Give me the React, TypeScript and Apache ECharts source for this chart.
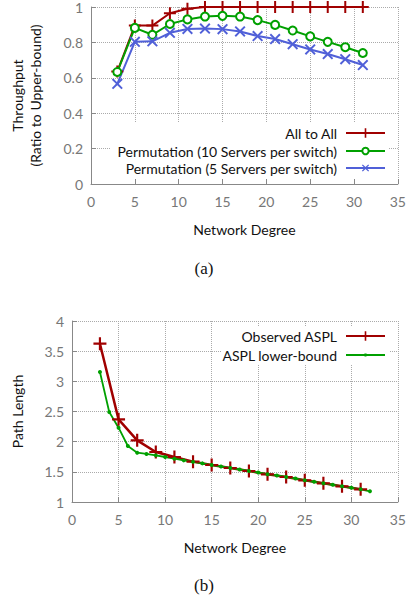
import React, { useEffect, useRef } from "react";
import * as echarts from "echarts";

const degrees = [3, 5, 7, 9, 11, 13, 15, 17, 19, 21, 23, 25, 27, 29, 31];
const allToAll = [0.635, 0.895, 0.895, 0.965, 0.99, 1, 1, 1, 1, 1, 1, 1, 1, 1, 1];
const perm10 = [0.633, 0.882, 0.843, 0.904, 0.93, 0.946, 0.95, 0.946, 0.926, 0.899, 0.867, 0.834, 0.803, 0.773, 0.74];
const perm5 = [0.566, 0.803, 0.806, 0.854, 0.876, 0.878, 0.875, 0.862, 0.836, 0.819, 0.79, 0.76, 0.734, 0.705, 0.672];

const observedAspl = [3.624, 2.37, 2.022, 1.829, 1.746, 1.669, 1.613, 1.564, 1.514, 1.459, 1.414, 1.359, 1.309, 1.26, 1.21];
const lbDegrees = [3, 4, 5, 6, 7, 8, 9, 10, 11, 12, 13, 14, 15, 16, 17, 18, 19, 20, 21, 22, 23, 24, 25, 26, 27, 28, 29, 30, 31, 32];
const lowerBound = [3.155, 2.492, 2.232, 1.928, 1.818, 1.796, 1.773, 1.746, 1.718, 1.69, 1.665, 1.64, 1.613, 1.59, 1.565, 1.54, 1.515, 1.49, 1.46, 1.44, 1.415, 1.39, 1.36, 1.335, 1.31, 1.285, 1.26, 1.235, 1.21, 1.177];

const names = [
  "All to All",
  "Permutation (10 Servers per switch)",
  "Permutation (5 Servers per switch)",
  "Observed ASPL",
  "ASPL lower-bound",
];

const RED = "#a00000";
const GREEN = "#00a000";
const BLUE = "#5060d8";
const FONT = "Lato";

const PLUS = "path://M5,0H7V5H12V7H7V12H5V7H0V5H5Z";
const CROSS = "path://M0,1.5L1.5,0L6,4.5L10.5,0L12,1.5L7.5,6L12,10.5L10.5,12L6,7.5L1.5,12L0,10.5L4.5,6Z";

const pairs = (xs: number[], ys: number[]) => xs.map((x, i) => [x, ys[i]]);

function xAxisCfg(gridIndex: number) {
  return {
    type: "value",
    gridIndex,
    min: 0,
    max: 35,
    interval: 5,
    name: "Network Degree",
    nameLocation: "middle",
    nameGap: 38,
    nameTextStyle: { color: "#111", fontSize: 14, fontFamily: FONT },
    axisLine: { lineStyle: { color: "#888", width: 1 } },
    axisTick: { inside: true, length: 5, lineStyle: { color: "#888" } },
    axisLabel: { color: "#777", fontSize: 14, fontFamily: FONT, margin: 10 },
    splitLine: { show: true, lineStyle: { type: "dotted", color: "#aaa", width: 1 } },
  };
}

function yAxisCfg(gridIndex: number, min: number, max: number, interval: number, name: string, gap: number) {
  return {
    type: "value",
    gridIndex,
    min,
    max,
    interval,
    name,
    nameLocation: "middle",
    nameGap: gap,
    nameTextStyle: { color: "#111", fontSize: 14, fontFamily: FONT, lineHeight: 18 },
    axisLine: { show: true, lineStyle: { color: "#888", width: 1 } },
    axisTick: { show: true, inside: true, length: 5, lineStyle: { color: "#888" } },
    axisLabel: { color: "#777", fontSize: 14, fontFamily: FONT, margin: 8 },
    splitLine: { show: true, lineStyle: { type: "dotted", color: "#aaa", width: 1 } },
  };
}

function legendItem(name: string, centerY: number, iconH: number) {
  return {
    data: [name],
    orient: "vertical",
    right: 23,
    top: centerY - 9,
    align: "right",
    itemWidth: 39,
    itemHeight: iconH,
    padding: 0,
    textStyle: { color: "#111", fontSize: 14, fontFamily: FONT, lineHeight: 18, padding: [0, 4, 0, 0] },
  };
}

export default function App() {
  const ref = useRef<HTMLDivElement>(null);
  useEffect(() => {
    document.body.style.margin = "0";
    const chart = echarts.init(ref.current!, undefined, { renderer: "svg" });
    chart.setOption({
      animation: false,
      backgroundColor: "#fff",
      grid: [
        { left: 87, right: 8, top: 3, height: 181 },
        { left: 68, right: 9, top: 321, height: 181 },
      ],
      xAxis: [xAxisCfg(0), xAxisCfg(1)],
      yAxis: [
        yAxisCfg(0, 0, 1, 0.2, "Throughput\n(Ratio to Upper-bound)", 47),
        yAxisCfg(1, 1, 4, 0.5, "Path Length", 46),
      ],
      legend: [
        legendItem(names[0], 133, 12),
        legendItem(names[1], 151, 8),
        legendItem(names[2], 168, 9),
        legendItem(names[3], 336, 12),
        legendItem(names[4], 355, 4),
      ],
      graphic: [
        { type: "rect", z: 1, shape: { x: 110, y: 123, width: 279, height: 55 }, style: { fill: "#fff" } },
        { type: "rect", z: 1, shape: { x: 222, y: 326, width: 168, height: 39 }, style: { fill: "#fff" } },
        { type: "text", x: 204, y: 268, style: { text: "(a)", fontSize: 17, fontFamily: "Liberation Serif", fill: "#111", align: "center", verticalAlign: "middle" } },
        { type: "text", x: 204, y: 585, style: { text: "(b)", fontSize: 17, fontFamily: "Liberation Serif", fill: "#111", align: "center", verticalAlign: "middle" } },
      ],
      series: [
        {
          name: names[0], type: "line", xAxisIndex: 0, yAxisIndex: 0,
          data: pairs(degrees, allToAll),
          symbol: PLUS, symbolSize: 12,
          lineStyle: { color: RED, width: 2 }, itemStyle: { color: RED },
        },
        {
          name: names[1], type: "line", xAxisIndex: 0, yAxisIndex: 0,
          data: pairs(degrees, perm10),
          symbol: "emptyCircle", symbolSize: 8,
          lineStyle: { color: GREEN, width: 2 }, itemStyle: { color: GREEN, borderWidth: 2 },
        },
        {
          name: names[2], type: "line", xAxisIndex: 0, yAxisIndex: 0,
          data: pairs(degrees, perm5),
          symbol: CROSS, symbolSize: 11,
          lineStyle: { color: BLUE, width: 2 }, itemStyle: { color: BLUE },
        },
        {
          name: names[3], type: "line", xAxisIndex: 1, yAxisIndex: 1,
          data: pairs(degrees, observedAspl),
          symbol: PLUS, symbolSize: 13,
          lineStyle: { color: RED, width: 2.5 }, itemStyle: { color: RED },
        },
        {
          name: names[4], type: "line", xAxisIndex: 1, yAxisIndex: 1,
          data: pairs(lbDegrees, lowerBound),
          symbol: "circle", symbolSize: 4,
          lineStyle: { color: GREEN, width: 1.8 }, itemStyle: { color: GREEN },
        },
      ],
    });
    return () => chart.dispose();
  }, []);
  return <div ref={ref} style={{ width: 409, height: 600 }} />;
}
